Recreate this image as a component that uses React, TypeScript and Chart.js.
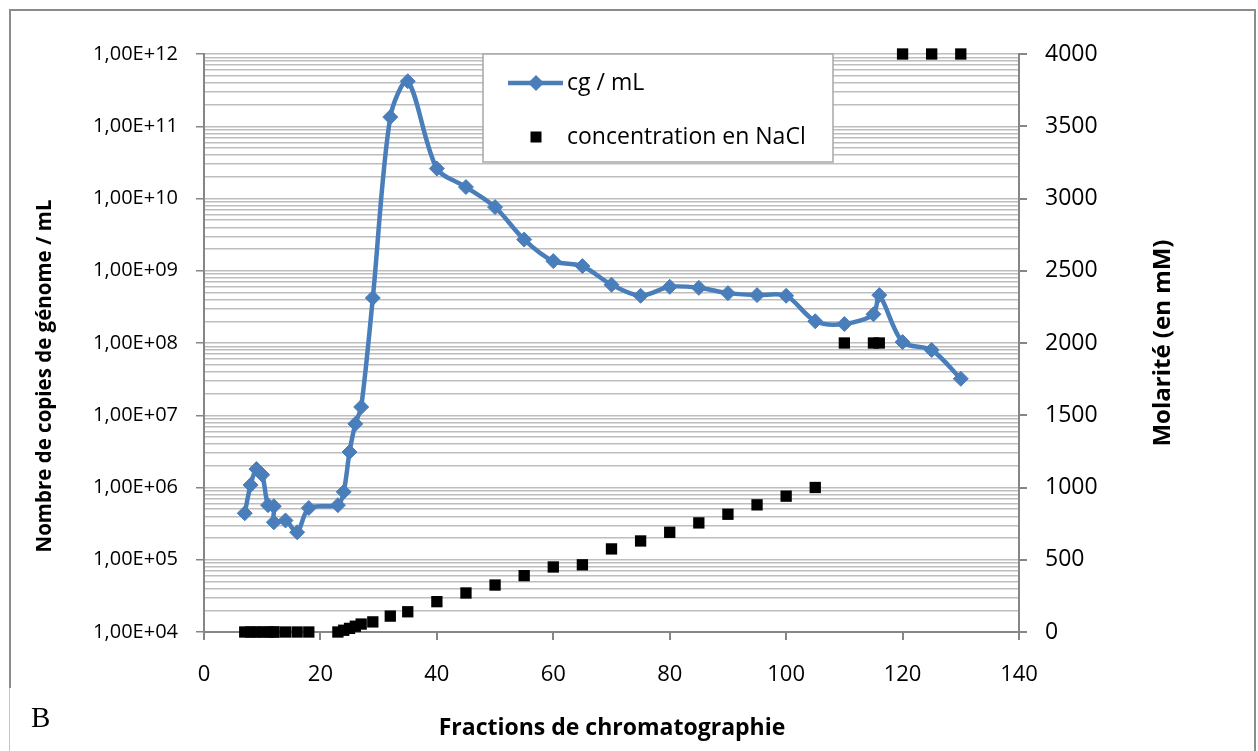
import React, { useEffect, useRef } from 'react';
import { Chart, registerables } from 'chart.js';

Chart.register(...registerables);

// ---- data ----
const fractions = [
  7, 8, 9, 10, 11, 12, 12, 14, 16, 18,
  23, 24, 25, 26, 27, 29, 32, 35,
  40, 45, 50, 55, 60, 65, 70, 75, 80, 85, 90, 95, 100, 105, 110, 115, 116, 120, 125, 130,
];
const cgPerMl = [
  4.4e5, 1.08e6, 1.8e6, 1.5e6, 5.7e5, 5.5e5, 3.3e5, 3.5e5, 2.4e5, 5.2e5,
  5.7e5, 8.7e5, 3.1e6, 7.6e6, 1.3e7, 4.2e8, 1.34e11, 4.2e11,
  2.6e10, 1.44e10, 7.6e9, 2.7e9, 1.36e9, 1.16e9, 6.4e8, 4.5e8, 6.0e8, 5.8e8, 4.9e8, 4.6e8,
  4.5e8, 2.0e8, 1.83e8, 2.5e8, 4.6e8, 1.03e8, 8.0e7, 3.2e7,
];
const naclMm = [
  0, 0, 0, 0, 0, 0, 0, 0, 0, 0,
  0, 12, 25, 40, 55, 70, 110, 140,
  210, 270, 325, 390, 450, 465, 575, 630, 690, 755, 815, 880, 940, 1000, 2000, 2000, 2000,
  4000, 4000, 4000,
];
const seriesLabels = ['cg / mL', 'concentration en NaCl'];
const logDecades = [4, 5, 6, 7, 8, 9, 10, 11, 12];
const logSignificands = [1, 2, 3, 4, 5, 6, 7, 8, 9];
const xTickStep = 20;
const molarityTickStep = 500;
const titles = {
  x: 'Fractions de chromatographie',
  y: 'Nombre de copies de génome / mL',
  y2: 'Molarité (en mM)',
  panel: 'B',
};

const FONT = '"Open Sans", "Noto Sans", sans-serif';
const BLUE = '#4a7ebb';
const AXIS = '#868686';
const GRID = '#bdbdbd';

const isPow10 = (v: number) => {
  const l = Math.log10(v);
  return Math.abs(l - Math.round(l)) < 1e-9;
};
const fmtSci = (v: number) => {
  const e = Math.round(Math.log10(v));
  return '1,00E+' + String(e).padStart(2, '0');
};

const overlayPlugin = {
  id: 'overlay',
  beforeDatasetsDraw(chart: any) {
    const ctx = chart.ctx as CanvasRenderingContext2D;
    const ds = chart.data.datasets;
    ctx.save();
    // legend box
    ctx.fillStyle = '#ffffff';
    ctx.fillRect(483, 54, 350, 108);
    ctx.strokeStyle = '#a8a8a8';
    ctx.lineWidth = 1.5;
    ctx.strokeRect(483, 54, 350, 108);
    // item 1 : line + diamond
    ctx.strokeStyle = BLUE;
    ctx.lineWidth = 4.5;
    ctx.beginPath();
    ctx.moveTo(508, 83);
    ctx.lineTo(563, 83);
    ctx.stroke();
    ctx.fillStyle = BLUE;
    ctx.beginPath();
    ctx.moveTo(528, 83);
    ctx.lineTo(536, 75);
    ctx.lineTo(544, 83);
    ctx.lineTo(536, 91);
    ctx.closePath();
    ctx.fill();
    // item 2 : square
    ctx.fillStyle = '#000';
    ctx.fillRect(530.5, 131.5, 11, 11);
    ctx.font = `23px ${FONT}`;
    ctx.textBaseline = 'middle';
    ctx.textAlign = 'left';
    ctx.fillText(ds[0].label, 567, 83);
    ctx.fillText(ds[1].label, 567, 137);
    ctx.restore();
  },
  afterDraw(chart: any) {
    const ctx = chart.ctx as CanvasRenderingContext2D;
    ctx.save();
    ctx.fillStyle = '#000';
    ctx.textAlign = 'center';
    ctx.textBaseline = 'middle';
    ctx.font = `bold 23px ${FONT}`;
    ctx.fillText(titles.x, 612, 728);
    ctx.save();
    ctx.translate(45, 376);
    ctx.rotate(-Math.PI / 2);
    ctx.font = `bold 20.5px ${FONT}`;
    ctx.fillText(titles.y, 0, 0);
    ctx.restore();
    ctx.save();
    ctx.translate(1163, 343);
    ctx.rotate(-Math.PI / 2);
    ctx.font = `bold 24px ${FONT}`;
    ctx.fillText(titles.y2, 0, 0);
    ctx.restore();
    ctx.textAlign = 'left';
    ctx.font = `29px "Liberation Serif", "DejaVu Serif", serif`;
    ctx.fillText(titles.panel, 31, 719);
    ctx.restore();
  },
};

export default function App() {
  const ref = useRef<HTMLCanvasElement | null>(null);

  useEffect(() => {
    if (!ref.current) return;
    const logTicks: { value: number }[] = [];
    logDecades.forEach((e) => {
      logSignificands.forEach((s) => {
        if (e === logDecades[logDecades.length - 1] && s > 1) return;
        logTicks.push({ value: s * Math.pow(10, e) });
      });
    });

    const chart = new Chart(ref.current, {
      type: 'line',
      data: {
        datasets: [
          {
            label: seriesLabels[0],
            data: fractions.map((x, i) => ({ x, y: cgPerMl[i] })),
            yAxisID: 'y',
            borderColor: BLUE,
            backgroundColor: BLUE,
            borderWidth: 4.5,
            tension: 0.3,
            pointStyle: 'rectRot',
            pointRadius: 7.5,
            pointBackgroundColor: BLUE,
            pointBorderColor: BLUE,
            pointBorderWidth: 1,
            fill: false,
            order: 1,
            clip: false,
          } as any,
          {
            label: seriesLabels[1],
            data: fractions.map((x, i) => ({ x, y: naclMm[i] })),
            yAxisID: 'y2',
            showLine: false,
            pointStyle: 'rect',
            pointRadius: 8,
            pointBackgroundColor: '#000',
            pointBorderColor: '#000',
            pointBorderWidth: 0,
            borderColor: '#000',
            backgroundColor: '#000',
            order: 0,
            clip: false,
          } as any,
        ],
      },
      options: {
        animation: false,
        responsive: false,
        events: [],
        layout: { padding: { top: 54, left: 0, right: 0, bottom: 0 } },
        plugins: { legend: { display: false }, tooltip: { enabled: false } },
        scales: {
          x: {
            type: 'linear',
            position: 'bottom',
            min: 0,
            max: 140,
            ticks: {
              stepSize: xTickStep,
              color: '#000',
              font: { family: FONT, size: 22 },
              padding: 22,
              callback: (v: any) => String(v),
            },
            grid: { drawOnChartArea: false, tickLength: 8, tickColor: AXIS, lineWidth: 2 },
            border: { color: AXIS, width: 2 },
            afterFit: (s: any) => {
              s.height = 119;
            },
          },
          y: {
            type: 'logarithmic',
            position: 'left',
            min: 1e4,
            max: 1e12,
            afterBuildTicks: (s: any) => {
              s.ticks = logTicks.map((t) => ({ value: t.value }));
            },
            ticks: {
              autoSkip: false,
              color: '#000',
              font: { family: FONT, size: 20 },
              padding: 18,
              callback: (v: any) => (isPow10(Number(v)) ? fmtSci(Number(v)) : ''),
            },
            grid: {
              color: GRID,
              lineWidth: 1.5,
              tickLength: 8,
              tickColor: (c: any) => (c.tick && isPow10(c.tick.value) ? AXIS : 'rgba(0,0,0,0)'),
            },
            border: { color: AXIS, width: 2 },
            afterFit: (s: any) => {
              s.width = 204;
            },
          },
          y2: {
            type: 'linear',
            position: 'right',
            min: 0,
            max: 4000,
            ticks: {
              stepSize: molarityTickStep,
              color: '#000',
              font: { family: FONT, size: 23 },
              padding: 18,
              callback: (v: any) => String(v),
            },
            grid: { drawOnChartArea: false, tickLength: 8, tickColor: AXIS, lineWidth: 2 },
            border: { color: AXIS, width: 2 },
            afterFit: (s: any) => {
              s.width = 239;
            },
          },
        },
      } as any,
      plugins: [overlayPlugin as any],
    });
    return () => chart.destroy();
  }, []);

  return (
    <>
      <div
        style={{
          position: 'absolute',
          left: 9,
          top: 9,
          width: 1247,
          height: 742,
          boxSizing: 'border-box',
          borderTop: '2px solid #8c8c8c',
          borderLeft: '2px solid #8c8c8c',
          borderRight: '2px solid #8c8c8c',
        }}
      />
      <div
        style={{
          position: 'absolute',
          left: 9,
          top: 688,
          width: 2,
          height: 63,
          boxSizing: 'border-box',
          background: '#fff',
          borderLeft: '1px solid #c4c4c4',
        }}
      />
      <canvas ref={ref} width={1258} height={751} style={{ position: 'absolute', left: 0, top: 0 }} />
    </>
  );
}
